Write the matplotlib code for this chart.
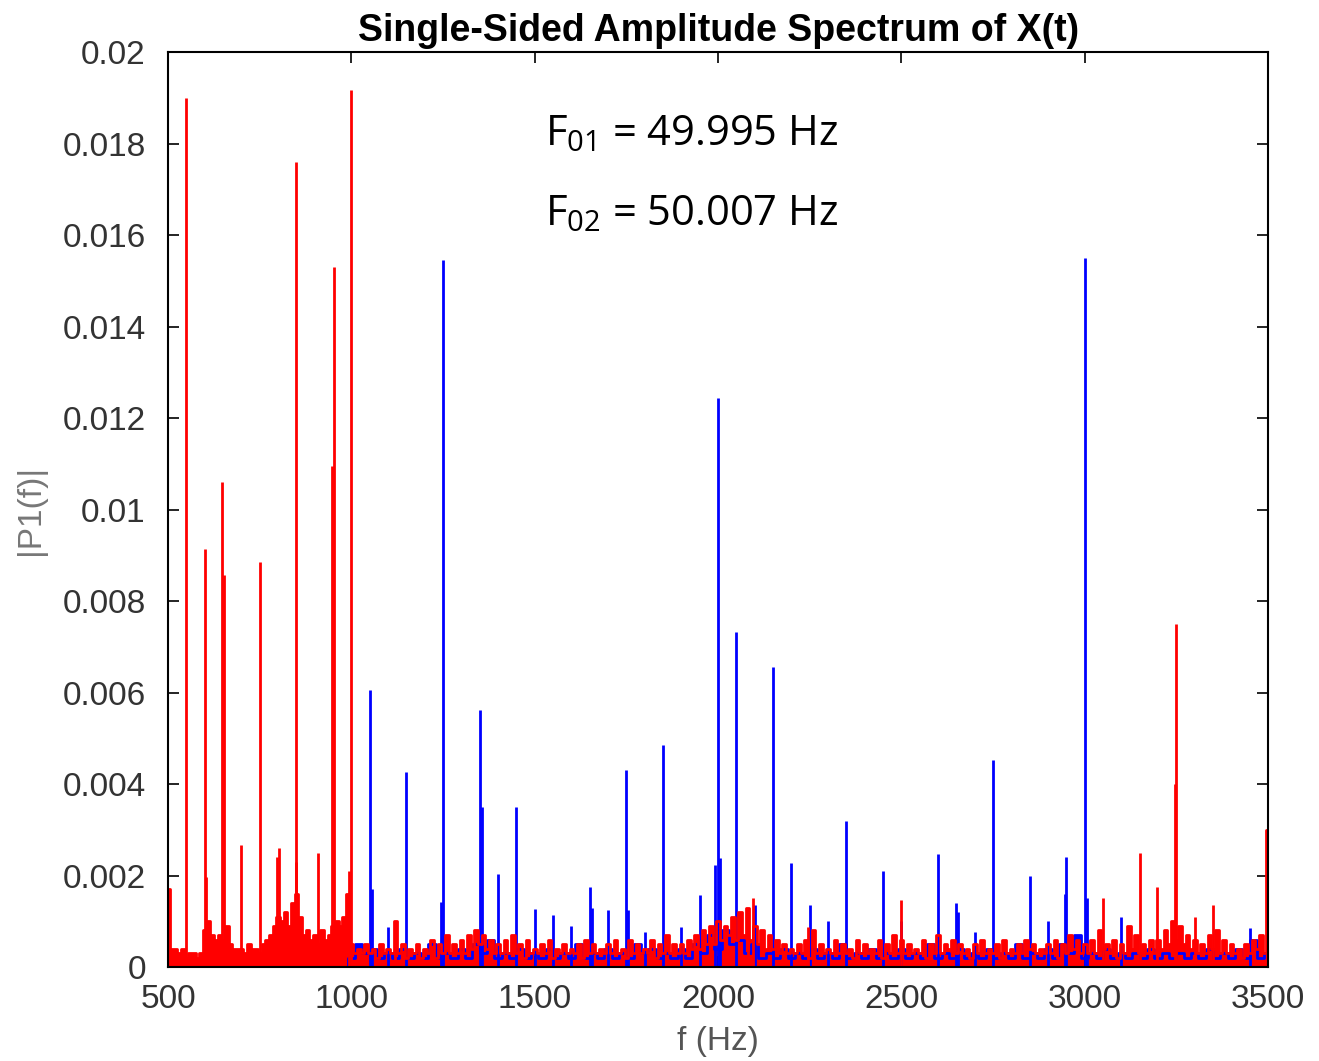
"""Single-sided amplitude spectrum of X(t), two overlaid spectra."""

import matplotlib
matplotlib.use("Agg")
import matplotlib.pyplot as plt
import numpy as np

plt.rcParams.update({
    "font.family": ["Liberation Sans", "DejaVu Sans"],
    "mathtext.fontset": "custom",
    "mathtext.rm": "Open Sans",
    "mathtext.it": "Open Sans",
    "figure.facecolor": "white",
    "axes.facecolor": "white",
})

# ---------------------------------------------------------------------------
# Data (noise floor amplitudes in units of 1e-4)
# ---------------------------------------------------------------------------
FLOOR_UNIT = 1e-4

# red spectrum floor, one value every 10 Hz from 500 to 3500 Hz
red_floor_step = 10
red_floor = [
    17, 4, 4, 3, 4, 2, 3, 3, 2, 3,        # 500
    8, 10, 7, 6, 7, 6, 9, 5, 4, 4,        # 600
    4, 3, 5, 4, 4, 3, 5, 6, 7, 9,         # 700
    11, 10, 12, 9, 14, 16, 11, 7, 8, 6,   # 800
    7, 5, 8, 6, 7, 9, 10, 9, 11, 16,      # 900
    5, 3, 4, 3, 5, 3, 4, 2, 5, 3,         # 1000
    4, 3, 10, 3, 5, 2, 4, 3, 5, 2,        # 1100
    4, 3, 6, 2, 5, 3, 7, 3, 5, 3,         # 1200
    6, 3, 7, 4, 8, 5, 7, 4, 6, 3,         # 1300
    5, 3, 6, 3, 7, 3, 5, 2, 6, 3,         # 1400
    4, 3, 5, 3, 6, 2, 4, 3, 5, 3,         # 1500
    4, 3, 5, 2, 6, 3, 5, 3, 4, 3,         # 1600
    5, 3, 6, 3, 4, 2, 6, 3, 5, 3,         # 1700
    4, 3, 6, 2, 5, 3, 7, 3, 5, 3,         # 1800
    5, 3, 6, 4, 7, 4, 8, 5, 9, 5,         # 1900
    10, 6, 9, 7, 11, 6, 12, 7, 13, 6,     # 2000
    9, 5, 8, 4, 7, 4, 6, 3, 5, 3,         # 2100
    4, 3, 5, 3, 6, 2, 8, 3, 5, 3,         # 2200
    4, 3, 6, 3, 5, 3, 4, 2, 6, 3,         # 2300
    5, 3, 4, 3, 6, 2, 5, 3, 7, 3,         # 2400
    6, 3, 5, 3, 4, 3, 6, 2, 5, 3,         # 2500
    7, 3, 5, 4, 6, 3, 5, 3, 4, 2,         # 2600
    5, 3, 6, 3, 4, 3, 5, 2, 6, 3,         # 2700
    4, 3, 5, 3, 6, 4, 5, 3, 4, 3,         # 2800
    5, 3, 6, 2, 5, 3, 7, 4, 6, 3,         # 2900
    5, 3, 6, 3, 8, 4, 5, 3, 6, 2,         # 3000
    5, 3, 9, 4, 7, 3, 5, 3, 6, 3,         # 3100
    6, 4, 8, 5, 10, 6, 9, 5, 7, 4,        # 3200
    6, 3, 5, 3, 7, 4, 8, 3, 6, 3,         # 3300
    5, 3, 4, 2, 5, 3, 6, 4, 7, 3,         # 3400
    30,                                   # 3500
]

# blue spectrum floor, one value every 20 Hz from 500 to 3500 Hz
blue_floor_step = 20
blue_floor = [
    0, 0, 0, 0, 0, 0, 0, 0, 0, 0,         # 500
    0, 0, 0, 0, 0, 0, 0, 0, 0, 0,         # 700
    0, 0, 0, 0, 0, 2, 5, 3, 4, 2,         # 900
    3, 2, 4, 2, 3, 2, 5, 2, 3, 2,         # 1100
    4, 2, 5, 3, 6, 2, 3, 2, 4, 2,         # 1300
    3, 2, 4, 2, 3, 2, 5, 2, 3, 2,         # 1500
    4, 2, 3, 2, 5, 3, 4, 2, 3, 2,         # 1700
    4, 2, 5, 3, 7, 4, 8, 5, 6, 3,         # 1900
    5, 2, 3, 2, 4, 2, 3, 2, 4, 2,         # 2100
    3, 2, 5, 2, 3, 2, 4, 2, 3, 2,         # 2300
    4, 2, 3, 2, 5, 2, 3, 2, 4, 2,         # 2500
    3, 2, 4, 2, 3, 2, 5, 2, 3, 2,         # 2700
    4, 2, 5, 3, 7, 2, 3, 2, 4, 2,         # 2900
    3, 2, 3, 2, 4, 2, 3, 2, 3, 2,         # 3100
    3, 2, 4, 2, 3, 2, 4, 2, 6, 2,         # 3300
    3,                                    # 3500
]

# spectral lines (Hz, amplitude)
red_peak_freq = [500, 550, 600, 604, 648, 652, 700, 750, 796, 802, 848, 850,
                 908, 947, 952, 993, 1000, 1120, 2082, 2095, 2245, 2500,
                 3050, 3150, 3197, 3246, 3250, 3300, 3350, 3500]
red_peak_amp = [0.0017, 0.0190, 0.00914, 0.00197, 0.0106, 0.00857, 0.00267,
                0.00885, 0.0024, 0.0026, 0.0023, 0.0176, 0.0025, 0.01095,
                0.0153, 0.0021, 0.01917, 0.0010, 0.00125, 0.0015, 0.00087,
                0.00146, 0.0015, 0.0025, 0.00175, 0.0040, 0.0075, 0.0011,
                0.00135, 0.0033]

blue_peak_freq = [1050, 1055, 1100, 1150, 1245, 1250, 1350, 1355, 1400, 1450,
                  1500, 1550, 1600, 1650, 1655, 1700, 1750, 1755, 1800, 1850,
                  1900, 1950, 1992, 2000, 2005, 2050, 2100, 2150, 2200, 2250,
                  2300, 2350, 2450, 2500, 2600, 2650, 2655, 2700, 2750, 2850,
                  2900, 2945, 2950, 3000, 3005, 3100, 3450, 3500]
blue_peak_amp = [0.00606, 0.0017, 0.00087, 0.00426, 0.00142, 0.01546, 0.00562,
                 0.0035, 0.00203, 0.0035, 0.00127, 0.00114, 0.0009, 0.00175,
                 0.0013, 0.00125, 0.0043, 0.00125, 0.00077, 0.00485, 0.00087,
                 0.00157, 0.00223, 0.01244, 0.00238, 0.00732, 0.00135, 0.00656,
                 0.00227, 0.00135, 0.0010, 0.0032, 0.0021, 0.0010, 0.00247,
                 0.0014, 0.0012, 0.00077, 0.00452, 0.0020, 0.0010, 0.0016,
                 0.0024, 0.0155, 0.0015, 0.0011, 0.00085, 0.0030]

x_ticks = [500, 1000, 1500, 2000, 2500, 3000, 3500]
y_ticks = [0, 0.002, 0.004, 0.006, 0.008, 0.01, 0.012, 0.014, 0.016, 0.018, 0.02]
y_tick_labels = ["0", "0.002", "0.004", "0.006", "0.008", "0.01",
                 "0.012", "0.014", "0.016", "0.018", "0.02"]

f01_text = r"F$_{01}$ = 49.995 Hz"
f02_text = r"F$_{02}$ = 50.007 Hz"

# ---------------------------------------------------------------------------
fig = plt.figure(figsize=(13.19, 10.61), dpi=100)
ax = fig.add_axes([0.1274, 0.0886, 0.834, 0.862])

lw = 2.0
blue_f = 500 + blue_floor_step * np.arange(len(blue_floor))
red_f = 500 + red_floor_step * np.arange(len(red_floor))
blue_y = np.array(blue_floor) * FLOOR_UNIT
red_y = np.array(red_floor) * FLOOR_UNIT

ax.fill_between(blue_f, 0, blue_y, step="mid", color="#0000ff", lw=0)
ax.plot(blue_f, blue_y, drawstyle="steps-mid", color="#0000ff", lw=lw)
ax.vlines(blue_peak_freq, 0, blue_peak_amp, color="#0000ff", lw=lw)
ax.fill_between(red_f, 0, red_y, step="mid", color="#ff0000", lw=0)
ax.plot(red_f, red_y, drawstyle="steps-mid", color="#ff0000", lw=lw)
ax.vlines(red_peak_freq, 0, red_peak_amp, color="#ff0000", lw=lw)

ax.set_xlim(500, 3500)
ax.set_ylim(0, 0.02)
ax.set_xticks(x_ticks)
ax.set_yticks(y_ticks)
ax.set_yticklabels(y_tick_labels)
ax.tick_params(direction="in", length=8, width=1.2, top=True, right=True,
               labelsize=24, labelcolor="#333333", pad=12)
ax.tick_params(axis="y", pad=16)
for s in ax.spines.values():
    s.set_linewidth(1.5)
    s.set_zorder(5)

ax.set_title("Single-Sided Amplitude Spectrum of X(t)", fontsize=27,
             fontweight="bold", pad=8)
ax.set_xlabel("f (Hz)", fontsize=24, color="#555555", labelpad=8)
ax.set_ylabel("|P1(f)|", fontsize=24, color="#777777", labelpad=12)

ax.text(1528, 0.01797, f01_text, fontsize=30, family="Open Sans",
        va="baseline", ha="left")
ax.text(1528, 0.01622, f02_text, fontsize=30, family="Open Sans",
        va="baseline", ha="left")

fig.savefig("out.png", dpi=100, facecolor="white")
